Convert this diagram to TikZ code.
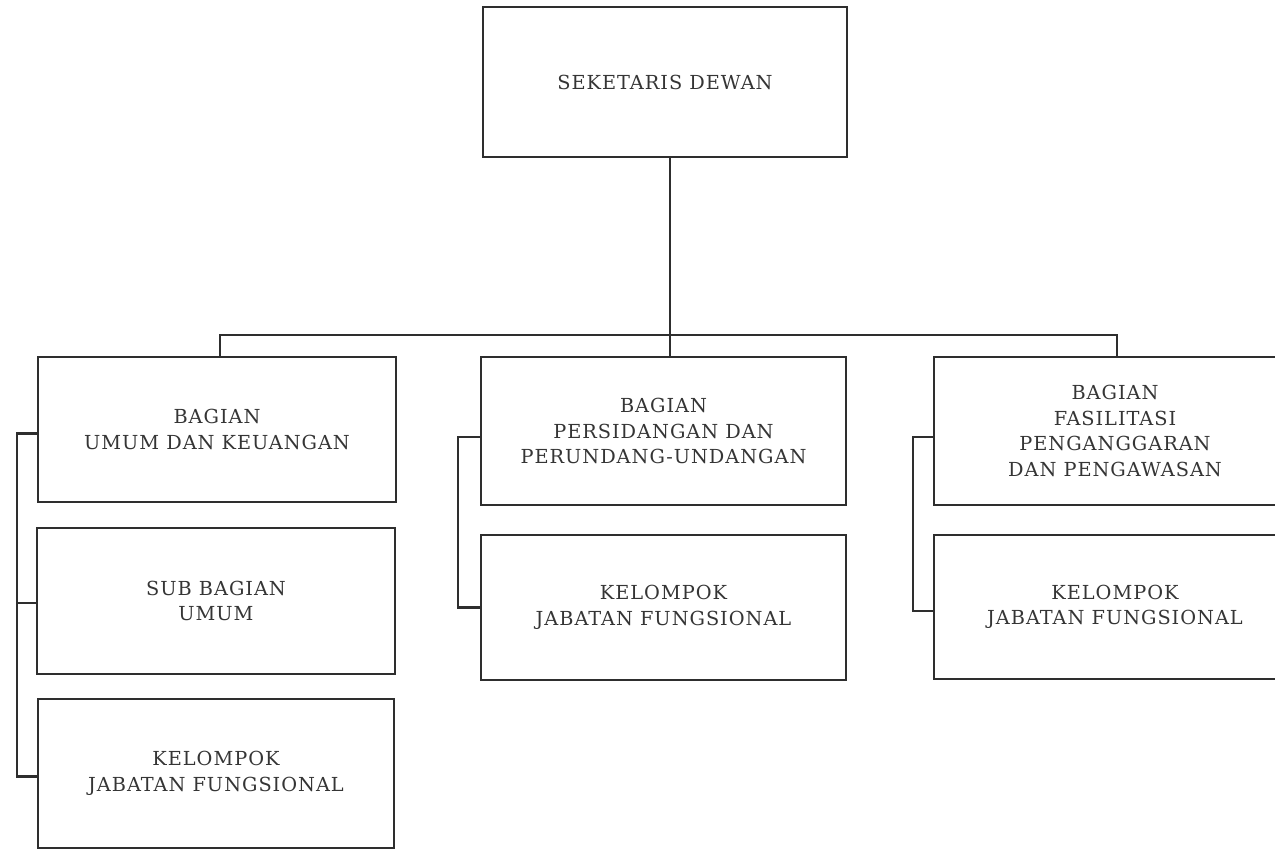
\documentclass[tikz,border=0pt]{standalone}
\usepackage{fontspec}
\setmainfont{DejaVu Serif}[LetterSpace=5]
\usetikzlibrary{calc}
\definecolor{linec}{HTML}{2E2E2E}
\definecolor{textc}{HTML}{353535}
\tikzset{
  box/.style 2 args={draw=linec, line width=1.3pt, rectangle, align=center,
    inner sep=0pt, text=textc, font=\fontsize{11}{14.5}\selectfont,
    minimum width=#1*0.02cm, minimum height=#2*0.02cm},
  conn/.style={draw=linec, line width=1.3pt}
}
\begin{document}
\begin{tikzpicture}[x=0.02cm, y=-0.02cm]
\useasboundingbox (0,0) rectangle (1275,850);
\clip (0,0) rectangle (1275,850);
\node[box={364}{150}] (top) at (665,82) {SEKETARIS DEWAN};
\node[box={358}{145}] (L1) at (217,429.5) {BAGIAN\\UMUM DAN KEUANGAN};
\node[box={358}{146}] (L2) at (216,601) {SUB BAGIAN\\UMUM};
\node[box={356}{149}] (L3) at (216,773.5) {KELOMPOK\\JABATAN FUNGSIONAL};
\node[box={365}{148}] (M1) at (663.5,431) {BAGIAN\\PERSIDANGAN DAN\\PERUNDANG-UNDANGAN};
\node[box={365}{145}] (M2) at (663.5,607.5) {KELOMPOK\\JABATAN FUNGSIONAL};
\node[box={362}{148}] (R1) at (1115,431) {BAGIAN\\FASILITASI\\PENGANGGARAN\\DAN PENGAWASAN};
\node[box={362}{144}] (R2) at (1115,607) {KELOMPOK\\JABATAN FUNGSIONAL};
\coordinate (j) at (670,335);
\coordinate (bl) at (220,335);
\coordinate (br) at (1117,335);
\coordinate (lx) at (17,0);
\coordinate (mx) at (458,0);
\coordinate (rx) at (913,0);
\draw[conn] (top.south -| j) -- (j);
\draw[conn] (L1.north -| bl) -- (bl) -- (br) -- (R1.north -| br);
\draw[conn] (j) -- (M1.north -| j);
\draw[conn] ($(L1.west)+(0,4)$) -- ($(L1.west -| lx)+(0,4)$) -- ($(L3.west -| lx)+(0,3)$) -- ($(L3.west)+(0,3)$);
\draw[conn] ($(L2.west -| lx)+(0,2)$) -- ($(L2.west)+(0,2)$);
\draw[conn] ($(M1.west)+(0,6)$) -- ($(M1.west -| mx)+(0,6)$) -- (M2.west -| mx) -- (M2.west);
\draw[conn] ($(R1.west)+(0,6)$) -- ($(R1.west -| rx)+(0,6)$) -- ($(R2.west -| rx)+(0,4)$) -- ($(R2.west)+(0,4)$);
\end{tikzpicture}
\end{document}
